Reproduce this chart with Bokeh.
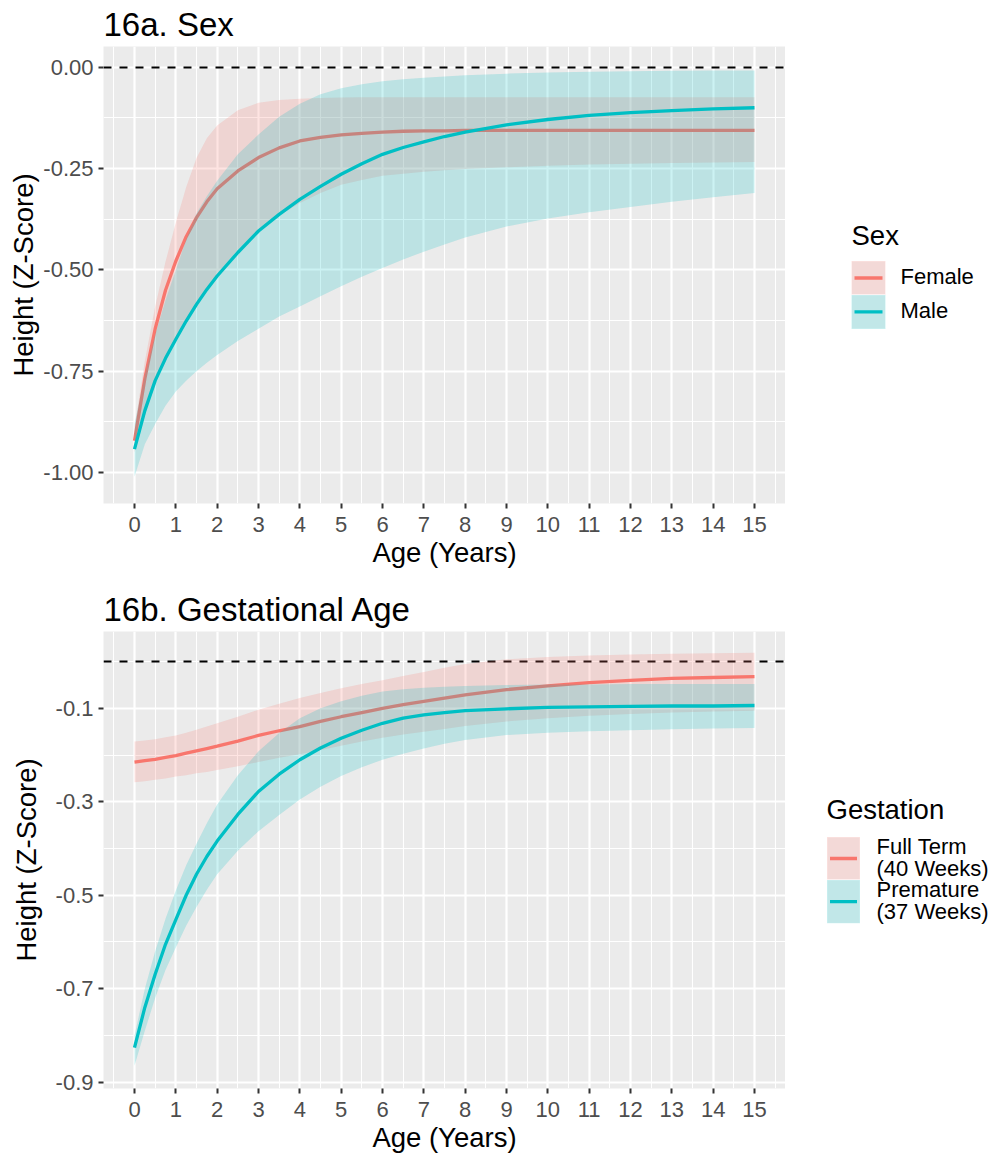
from bokeh.plotting import figure
from bokeh.layouts import row, column
from bokeh.models import FixedTicker, Range1d
from bokeh.core.properties import value
from bokeh.embed import file_html
from bokeh.resources import INLINE

FONT = "Liberation Sans"
RED = "#F8766D"
CYAN = "#00BFC4"

# ---------------------------------------------------------------- data
ages = [0, 0.25, 0.5, 0.75, 1, 1.25, 1.5, 1.75, 2, 2.5, 3, 3.5, 4, 4.5, 5,
        5.5, 6, 6.5, 7, 7.5, 8, 9, 10, 11, 12, 13, 14, 15]

# 16a. Sex
female_fit = [-0.921, -0.768, -0.645, -0.550, -0.478, -0.418, -0.371, -0.332, -0.300, -0.256, -0.223, -0.199,
              -0.182, -0.173, -0.167, -0.163, -0.160, -0.158, -0.157, -0.157, -0.156,
              -0.156, -0.156, -0.156, -0.156, -0.156, -0.156, -0.156]
female_upper = [-0.890, -0.725, -0.590, -0.480, -0.383, -0.296, -0.224, -0.175, -0.144, -0.106, -0.088, -0.081,
                -0.078, -0.076, -0.075, -0.074, -0.074, -0.074, -0.074, -0.074, -0.074,
                -0.074, -0.074, -0.074, -0.074, -0.074, -0.074, -0.074]
female_lower = [-0.950, -0.860, -0.780, -0.720, -0.670, -0.622, -0.580, -0.543, -0.510, -0.450, -0.400, -0.365,
                -0.335, -0.310, -0.290, -0.278, -0.268, -0.263, -0.258, -0.254, -0.251,
                -0.247, -0.243, -0.240, -0.238, -0.236, -0.235, -0.234]
male_fit = [-0.942, -0.847, -0.773, -0.718, -0.671, -0.626, -0.585, -0.548, -0.515, -0.457, -0.404, -0.363,
            -0.326, -0.294, -0.264, -0.238, -0.215, -0.198, -0.184, -0.171, -0.160,
            -0.142, -0.129, -0.119, -0.112, -0.107, -0.103, -0.100]
male_upper = [-0.880, -0.760, -0.660, -0.575, -0.500, -0.425, -0.360, -0.318, -0.280, -0.215, -0.166, -0.122,
              -0.090, -0.067, -0.052, -0.042, -0.035, -0.030, -0.026, -0.023, -0.020,
              -0.016, -0.013, -0.011, -0.010, -0.009, -0.008, -0.008]
male_lower = [-1.010, -0.930, -0.880, -0.835, -0.800, -0.773, -0.750, -0.729, -0.710, -0.675, -0.645, -0.615,
              -0.590, -0.565, -0.540, -0.517, -0.495, -0.474, -0.455, -0.437, -0.420,
              -0.393, -0.373, -0.358, -0.345, -0.332, -0.321, -0.310]

# 16b. Gestational Age
full_fit = [-0.215, -0.212, -0.209, -0.205, -0.201, -0.196, -0.191, -0.186, -0.181, -0.170, -0.158, -0.148,
            -0.139, -0.128, -0.118, -0.109, -0.100, -0.092, -0.085, -0.078, -0.071,
            -0.060, -0.052, -0.045, -0.040, -0.036, -0.034, -0.032]
full_upper = [-0.171, -0.169, -0.166, -0.162, -0.158, -0.152, -0.146, -0.139, -0.132, -0.118, -0.103, -0.090,
              -0.078, -0.067, -0.057, -0.048, -0.040, -0.031, -0.022, -0.013, -0.005,
              0.005, 0.010, 0.013, 0.015, 0.017, 0.018, 0.019]
full_lower = [-0.258, -0.256, -0.253, -0.250, -0.246, -0.243, -0.239, -0.236, -0.232, -0.224, -0.215, -0.206,
              -0.198, -0.189, -0.180, -0.171, -0.163, -0.156, -0.150, -0.144, -0.138,
              -0.128, -0.121, -0.116, -0.112, -0.109, -0.107, -0.105]
prem_fit = [-0.826, -0.740, -0.669, -0.605, -0.552, -0.500, -0.455, -0.417, -0.384, -0.327, -0.278, -0.241,
            -0.210, -0.185, -0.164, -0.147, -0.132, -0.121, -0.114, -0.109, -0.105,
            -0.101, -0.098, -0.097, -0.096, -0.095, -0.095, -0.094]
prem_upper = [-0.800, -0.700, -0.620, -0.550, -0.490, -0.436, -0.390, -0.346, -0.306, -0.243, -0.192, -0.153,
              -0.121, -0.100, -0.085, -0.073, -0.064, -0.059, -0.056, -0.054, -0.052,
              -0.050, -0.049, -0.049, -0.048, -0.048, -0.048, -0.048]
prem_lower = [-0.865, -0.790, -0.720, -0.660, -0.612, -0.565, -0.525, -0.488, -0.455, -0.405, -0.363, -0.328,
              -0.295, -0.268, -0.245, -0.226, -0.210, -0.197, -0.186, -0.176, -0.168,
              -0.157, -0.152, -0.149, -0.147, -0.145, -0.143, -0.142]

reference_level = 0.0

age_ticks = list(range(0, 16))
age_minor = [t + 0.5 for t in range(-1, 16)]
age_labels = [str(t) for t in age_ticks]

sex_ticks = [-1.0, -0.75, -0.5, -0.25, 0.0]
sex_minor = [-0.875, -0.625, -0.375, -0.125]
sex_labels = ["-1.00", "-0.75", "-0.50", "-0.25", "0.00"]

gest_ticks = [-0.9, -0.7, -0.5, -0.3, -0.1]
gest_minor = [-0.8, -0.6, -0.4, -0.2, 0.0]
gest_labels = ["-0.9", "-0.7", "-0.5", "-0.3", "-0.1"]

sex_groups = ["Female", "Male"]
gest_groups = ["Full Term\n(40 Weeks)", "Premature\n(37 Weeks)"]

# ---------------------------------------------------------------- page geometry (pixels)
PANEL_W = 785          # plot width incl. left border; frame ends at right edge
LEFT = 103
TOTAL_W = 997
TOP_H, TOP_FRAME = 585, (45, 503)
BOT_H, BOT_FRAME = 578, (630, 1088)


def make_panel(title, y_range, y_ticks, y_minor, y_labels, height, top, bottom,
               ylabel_standoff, series):
    p = figure(width=PANEL_W, height=height, title=title,
               x_range=Range1d(-0.75, 15.75), y_range=Range1d(*y_range),
               min_border_left=LEFT, min_border_right=0,
               min_border_top=top, min_border_bottom=bottom,
               output_backend="svg", toolbar_location=None)
    p.background_fill_color = "#EBEBEB"
    p.border_fill_color = "white"
    p.outline_line_color = None

    p.title.text_font = FONT
    p.title.text_font_size = "33px"
    p.title.text_font_style = "normal"
    p.title.text_color = "black"
    p.title.align = "left"
    p.title.standoff = 7

    p.xaxis.ticker = FixedTicker(ticks=age_ticks, minor_ticks=age_minor)
    p.xaxis.major_label_overrides = dict(zip(age_ticks, age_labels))
    p.yaxis.ticker = FixedTicker(ticks=y_ticks, minor_ticks=y_minor)
    p.yaxis.major_label_overrides = dict(zip(y_ticks, y_labels))
    p.xaxis.axis_label = "Age (Years)"
    p.yaxis.axis_label = "Height (Z-Score)"
    for ax in (p.xaxis[0], p.yaxis[0]):
        ax.axis_line_color = None
        ax.major_tick_line_color = "#333333"
        ax.major_tick_line_width = 2
        ax.major_tick_in = 0
        ax.major_tick_out = 5
        ax.minor_tick_line_color = None
        ax.major_label_text_font = FONT
        ax.major_label_text_font_size = "22px"
        ax.major_label_text_color = "#4D4D4D"
        ax.axis_label_text_font = FONT
        ax.axis_label_text_font_size = "27.5px"
        ax.axis_label_text_font_style = "normal"
        ax.axis_label_text_color = "black"
    p.yaxis.major_label_standoff = 5
    p.yaxis.axis_label_standoff = ylabel_standoff
    p.xaxis.major_label_standoff = 8
    p.xaxis.axis_label_standoff = 2

    for g in (p.xgrid[0], p.ygrid[0]):
        g.grid_line_color = "white"
        g.grid_line_width = 2.2
        g.minor_grid_line_color = "white"
        g.minor_grid_line_width = 1.1

    # dashed reference at zero, beneath the ribbons
    p.hspan(y=[reference_level], line_color="black", line_width=2, line_dash="8 8")

    for fit, lower, upper, color in series:
        p.varea(x=ages, y1=lower, y2=upper, fill_color=color, fill_alpha=0.2)
        p.line(x=ages, y=fit, line_color=color, line_width=3.3)
    return p


def make_legend(frame, height, top, bottom, title, title_pos, keys, labels, colors,
                label_x):
    # the legend canvas shares its frame rows with the neighbouring panel,
    # so its y range is expressed in page pixels of that frame
    lf = figure(width=TOTAL_W - PANEL_W, height=height,
                x_range=Range1d(PANEL_W, TOTAL_W), y_range=Range1d(frame[1], frame[0]),
                min_border_left=0, min_border_right=0,
                min_border_top=top, min_border_bottom=bottom,
                x_axis_location=None, y_axis_location=None,
                output_backend="svg", toolbar_location=None)
    lf.grid.visible = False
    lf.outline_line_color = None
    lf.background_fill_color = "white"
    lf.border_fill_color = "white"

    lift = 9  # text glyph baseline sits a little low on the flipped axis
    lf.text(x=[title_pos[0]], y=[title_pos[1] - lift], text=[title],
            text_font=value(FONT), text_font_size="27.5px",
            text_color="black", text_baseline="alphabetic")
    line_h, cap = 22.7, 7.9
    for (kl, kr, kt, kb), lab, col in zip(keys, labels, colors):
        lf.quad(left=[kl], right=[kr], top=[kt], bottom=[kb],
                fill_color="#F2F2F2", line_color="white", line_width=1)
        lf.quad(left=[kl], right=[kr], top=[kt], bottom=[kb],
                fill_color=col, fill_alpha=0.2, line_color=None)
        cy = (kt + kb) / 2
        lf.segment(x0=[kl + 3], y0=[cy], x1=[kr - 3], y1=[cy],
                   line_color=col, line_width=3.3)
        parts = lab.split("\n")
        first = cy - (len(parts) - 1) * line_h / 2 + cap - lift
        lf.text(x=[label_x] * len(parts),
                y=[first + i * line_h for i in range(len(parts))],
                text=parts, text_font=value(FONT), text_font_size="22px",
                text_color="black", text_baseline="alphabetic")
    return lf


p1 = make_panel("16a. Sex", (-1.076, 0.051), sex_ticks, sex_minor, sex_labels,
                height=TOP_H, top=45, bottom=82, ylabel_standoff=1,
                series=[(female_fit, female_lower, female_upper, RED),
                        (male_fit, male_lower, male_upper, CYAN)])

p2 = make_panel("16b. Gestational Age", (-0.9135, 0.0644), gest_ticks, gest_minor, gest_labels,
                height=BOT_H, top=45, bottom=75, ylabel_standoff=11,
                series=[(full_fit, full_lower, full_upper, RED),
                        (prem_fit, prem_lower, prem_upper, CYAN)])

lg1 = make_legend(TOP_FRAME, TOP_H, 45, 82, "Sex", (851, 243),
                  [(851, 885, 260, 294), (851, 885, 294, 328)],
                  sex_groups, [RED, CYAN], label_x=900)

lg2 = make_legend(BOT_FRAME, BOT_H, 45, 75, "Gestation", (826, 817),
                  [(826.5, 859.5, 836, 879), (826.5, 859.5, 879, 922.5)],
                  gest_groups, [RED, CYAN], label_x=876)

layout = column(row(p1, lg1), row(p2, lg2))

open("out.html", "w").write(file_html(layout, INLINE))
